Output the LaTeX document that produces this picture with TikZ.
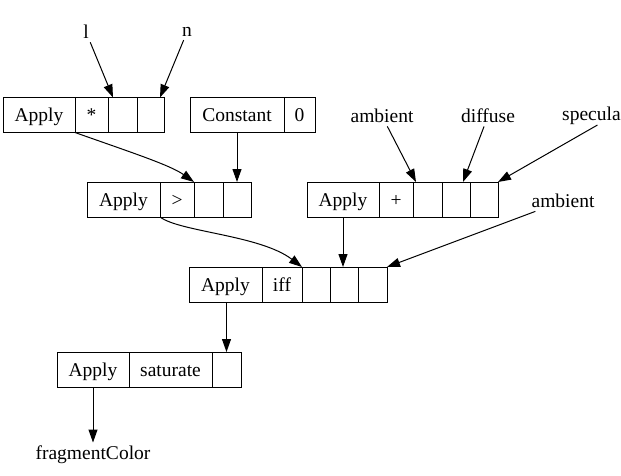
\documentclass[tikz,border=0pt]{standalone}
\usepackage{fontspec}
\setmainfont{Liberation Serif}
\usetikzlibrary{arrows.meta}
\tikzset{
  cell/.style={draw, line width=1pt, minimum height=35pt, inner sep=0pt, outer sep=0pt,
    text height=15pt, text depth=1pt, anchor=west},
  lbl/.style={inner sep=0.333em},
  link/.style={-{Triangle[length=13pt,width=9pt]}, line width=1pt}
}
\begin{document}
\begin{tikzpicture}[x=1pt, y=-1pt, font=\fontsize{19.5}{22}\selectfont]
\useasboundingbox (0,0) rectangle (621,476);

\node[cell, minimum width=72pt] (m1) at (3,115) {Apply};
\node[cell, minimum width=33pt] (m2) at (m1.east) {*};
\node[cell, minimum width=29pt] (m3) at (m2.east) {};
\node[cell, minimum width=27pt] (m4) at (m3.east) {};

\node[cell, minimum width=94pt] (k1) at (190,115) {Constant};
\node[cell, minimum width=31pt] (k2) at (k1.east) {0};

\node[cell, minimum width=73pt] (g1) at (87,199.5) {Apply};
\node[cell, minimum width=34pt] (g2) at (g1.east) {>};
\node[cell, minimum width=29pt] (g3) at (g2.east) {};
\node[cell, minimum width=28pt] (g4) at (g3.east) {};

\node[cell, minimum width=72pt] (p1) at (307,199.5) {Apply};
\node[cell, minimum width=34pt] (p2) at (p1.east) {+};
\node[cell, minimum width=29pt] (p3) at (p2.east) {};
\node[cell, minimum width=28pt] (p4) at (p3.east) {};
\node[cell, minimum width=28pt] (p5) at (p4.east) {};

\node[cell, minimum width=73pt] (f1) at (189,284.5) {Apply};
\node[cell, minimum width=40pt] (f2) at (f1.east) {iff};
\node[cell, minimum width=28pt] (f3) at (f2.east) {};
\node[cell, minimum width=28pt] (f4) at (f3.east) {};
\node[cell, minimum width=29pt] (f5) at (f4.east) {};

\node[cell, minimum width=72pt] (s1) at (57,369.5) {Apply};
\node[cell, minimum width=83pt] (s2) at (s1.east) {saturate};
\node[cell, minimum width=29pt] (s3) at (s2.east) {};

\node[lbl] (l) at (86,32) {l};
\node[lbl] (n) at (187,32) {n};
\node[lbl] (amb) at (382,116) {ambient};
\node[lbl] (dif) at (488,116) {diffuse};
\node[lbl, anchor=west, inner sep=0pt] (spec) at (562,116) {specula};
\node[lbl] (amb2) at (563,201) {ambient};
\node[lbl] (frag) at (93,455) {fragmentColor};

\draw[link] (l) -- ([xshift=5pt]m3.north west);
\draw[link] (n) -- ([xshift=-4pt]m4.north east);
\draw[link] (m1.south east) .. controls (130,152) and (170,165) .. (g3.north west);
\draw[link] (k1.south) -- (k1.south |- g4.north);
\draw[link] (amb) -- ([xshift=3pt]p3.north west);
\draw[link] (dif) -- ([xshift=-7pt]p4.north east);
\draw[link] ([xshift=6pt]spec.south) -- (p5.north east);
\draw[link] (g1.south east) .. controls (180,232) and (260,235) .. (f3.north west);
\draw[link] (p1.south) -- (p1.south |- f4.north);
\draw[link] (amb2) -- (f5.north east);
\draw[link] (s3.north |- f1.south) -- (s3.north);
\draw[link] (s1.south) -- (s1.south |- frag.north);
\end{tikzpicture}
\end{document}
